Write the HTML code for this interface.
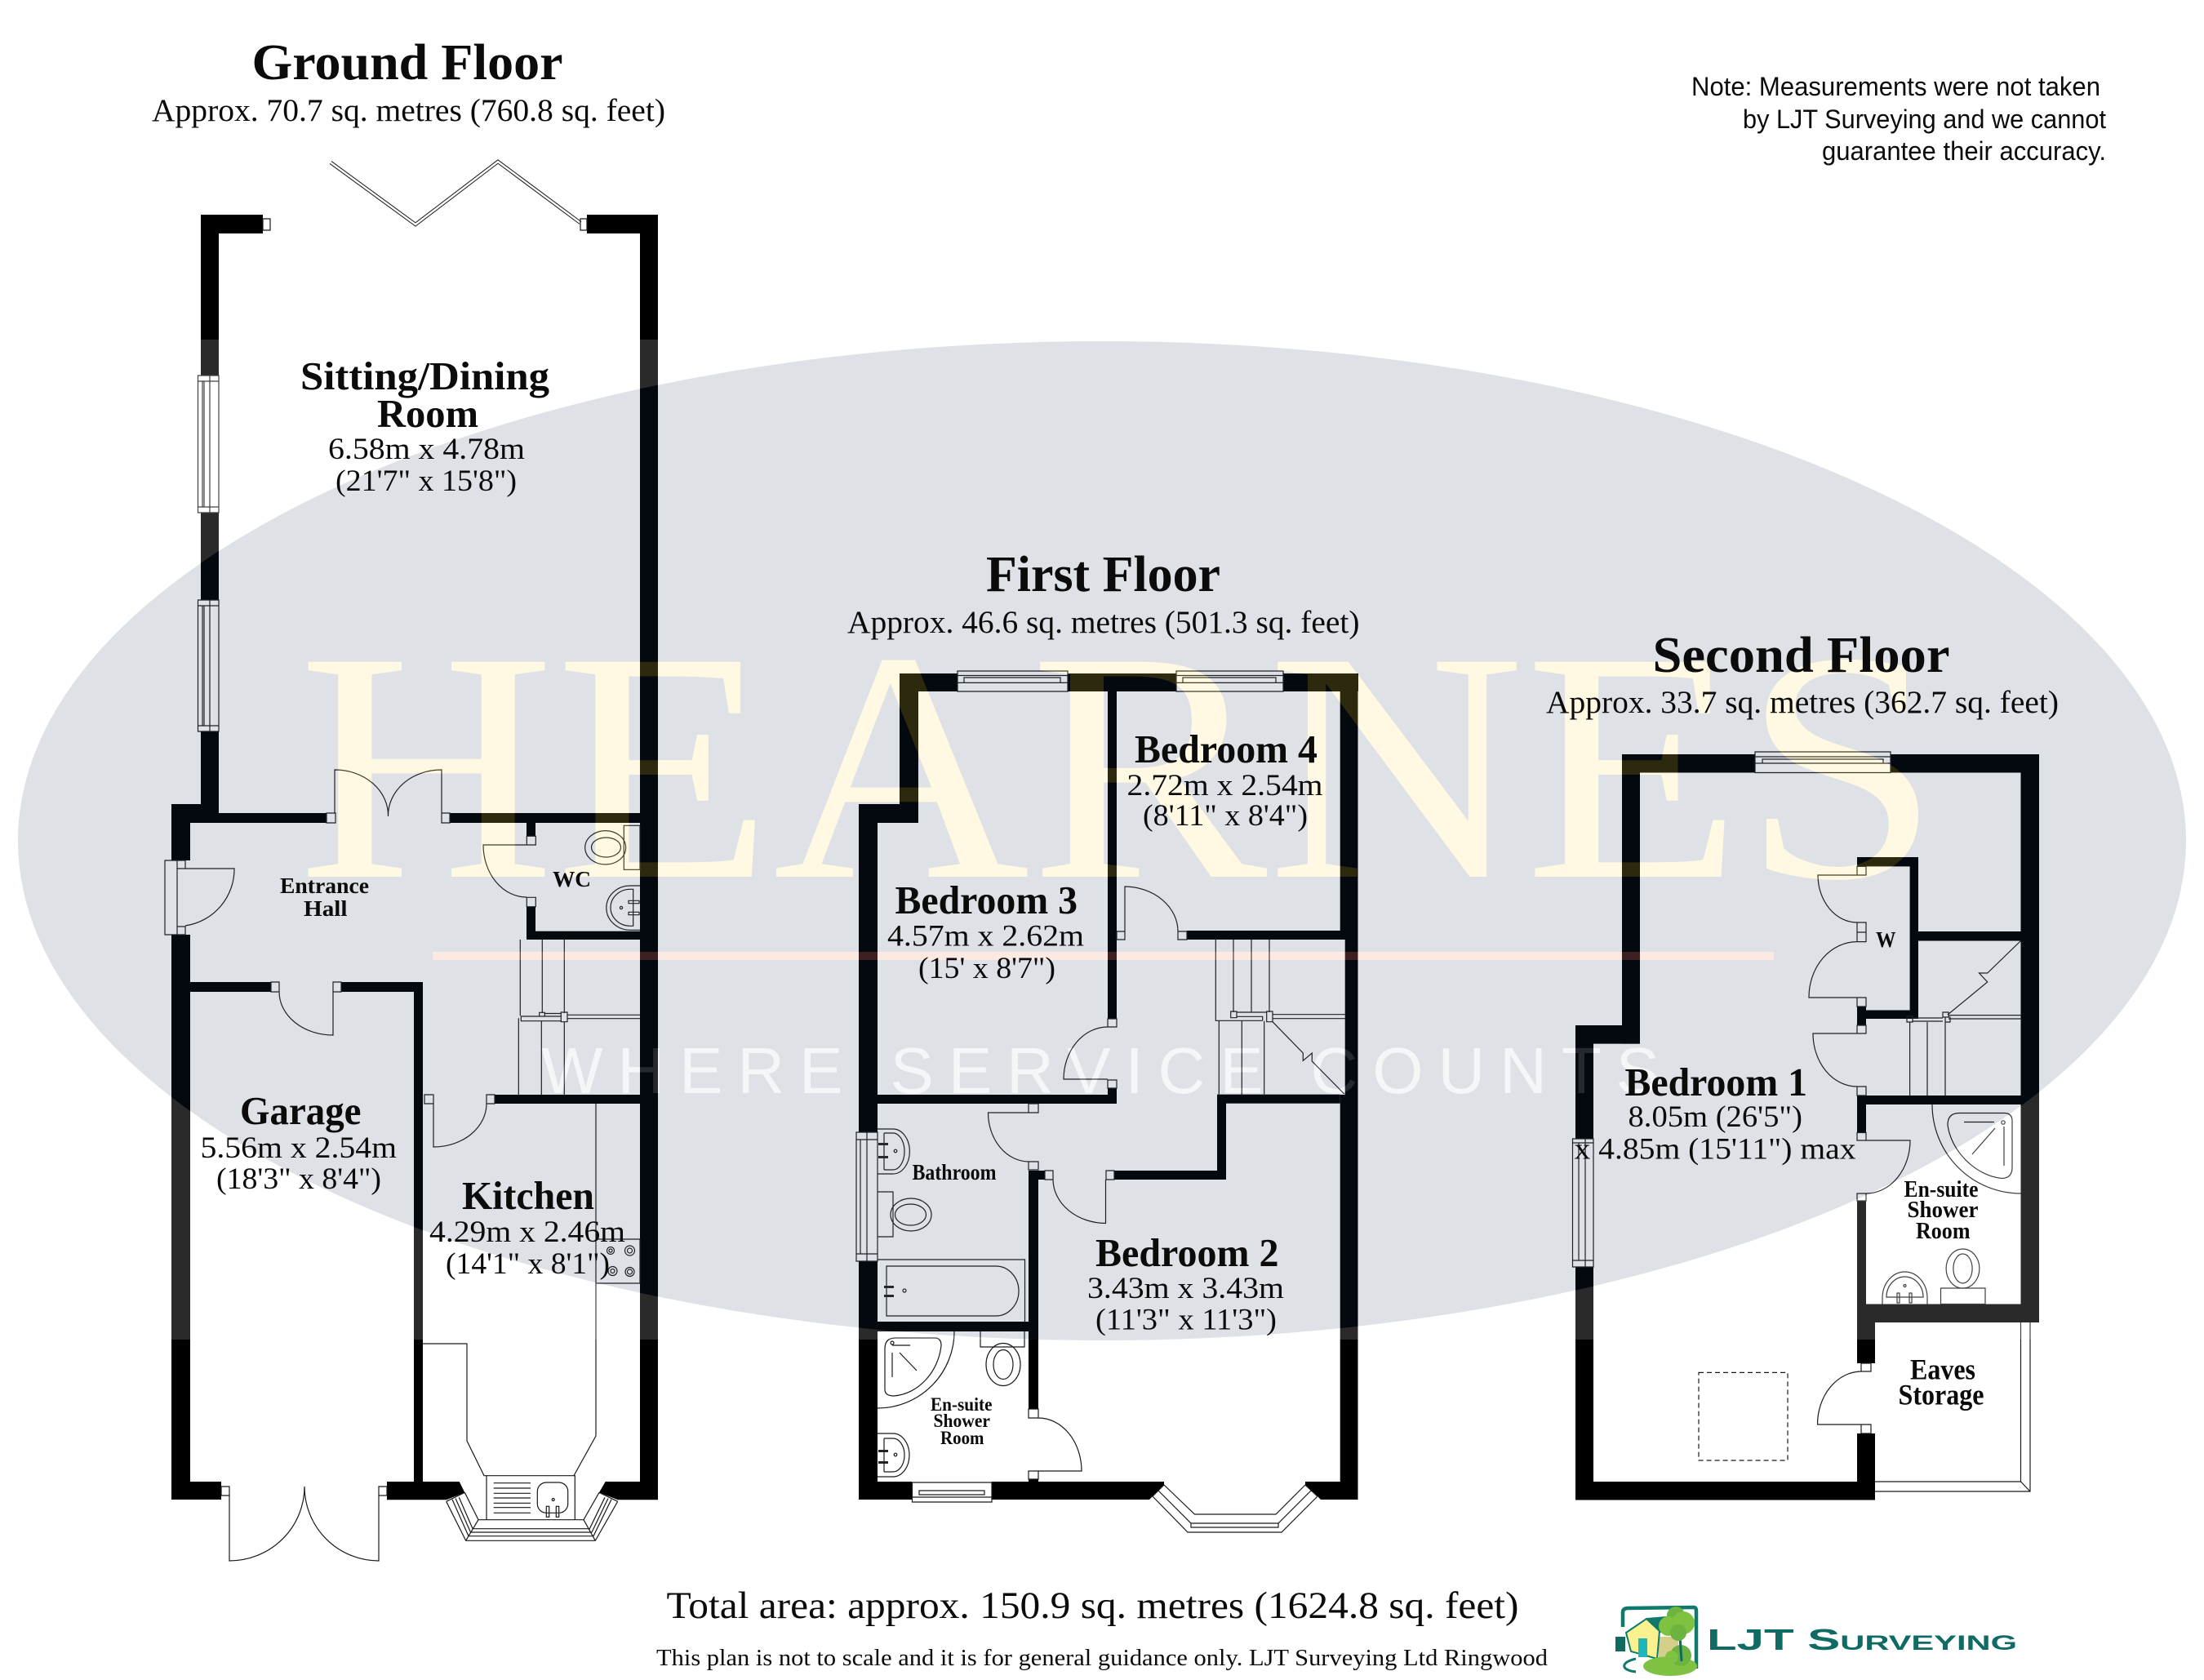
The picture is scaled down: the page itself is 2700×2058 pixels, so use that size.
<!DOCTYPE html>
<html><head><meta charset="utf-8"><title>Floor plans</title>
<style>
html,body{margin:0;padding:0;background:#fff}
svg{display:block}
text{font-family:"Liberation Serif",serif;fill:#0b0b0b}
.s{font-family:"Liberation Sans",sans-serif}
.b{font-weight:bold}
.t{font-size:62px;font-weight:bold}
.a{font-size:39px}
.r{font-size:49px;font-weight:bold}
.d{font-size:37px}
.m{font-size:27px;font-weight:bold}
.w{fill:#000}
.l{fill:none;stroke:#1a1a1a;stroke-width:1.2}
</style></head><body>
<svg xmlns="http://www.w3.org/2000/svg" width="2700" height="2058" viewBox="0 0 2700 2058">
<rect width="2700" height="2058" fill="#fff"/>
<!-- watermark base -->
<ellipse cx="1350" cy="1030" rx="1328" ry="612" fill="#dde0e4"/>
<text x="365" y="1074" font-size="402" textLength="2012" lengthAdjust="spacingAndGlyphs" style="fill:#fff8e1">HEARNES</text>
<rect x="530" y="1166" width="1643" height="10" fill="#fbe6dc"/>
<text class="s" x="663" y="1339" font-size="80" textLength="1370" lengthAdjust="spacing" style="fill:#f4f5f7">WHERE SERVICE COUNTS</text>

<!-- GROUND FLOOR walls -->
<g class="w">
<rect x="246" y="263" width="76" height="23"/>
<rect x="719" y="263" width="87" height="23"/>
<rect x="246" y="263" width="22" height="197"/>
<rect x="246" y="628" width="22" height="107"/>
<rect x="246" y="896" width="22" height="112"/>
<rect x="210" y="985" width="58" height="23"/>
<rect x="210" y="985" width="23" height="69"/>
<rect x="233" y="996" width="167" height="12"/>
<rect x="551" y="996" width="255" height="12"/>
<rect x="784" y="263" width="22" height="1574"/>
<rect x="210" y="1145" width="23" height="692"/>
<rect x="210" y="1815" width="61" height="22"/>
<polygon points="474,1815 562.700,1815 569.300,1828.300 547,1837.300 474,1837.300"/>
<polygon points="741.700,1815 806,1815 806,1837.300 756.700,1837.300 734,1828.300"/>
<rect x="507" y="1203" width="11" height="634"/>
<rect x="233" y="1203" width="99" height="12"/>
<rect x="418" y="1203" width="100" height="12"/>
<rect x="606" y="1341" width="178" height="11"/>
<rect x="645" y="1008" width="11" height="16.300"/>
<rect x="645" y="1110.700" width="11" height="40.300"/>
<rect x="645" y="1140.700" width="139" height="10.300"/>
</g>
<!-- GROUND FLOOR lines -->
<polyline points="405,199 509,275 610,198 711,273" fill="none" stroke="#222" stroke-width="4.5"/>
<polyline points="405,199 509,275 610,198 711,273" fill="none" stroke="#fff" stroke-width="2.4"/>
<path class="l" d="M322 268h9v14h-9zM711 268h8v14h-8z
M242.5 460h25.5v168h-25.5zM248 467h9v154h-9zM250 467v154M242.5 467h25.5M242.5 621h25.5M257 460v168
M242.5 735h25.5v161h-25.5zM248 742h9v147h-9zM250 742v147M242.5 742h25.5M242.5 889h25.5M257 735v161
M400 996h11v12h-11zM541 996h10v12h-10zM410 996V943A65 56 0 0 1 475.5 1000M541 996V943A65 56 0 0 0 475.5 1000
M202 1054h15v91h-15zM217 1054h10v10h-10zM217 1135h10v10h-10zM217 1064v71M227 1064H287A70 70 0 0 1 227 1134
M332 1203h10v12h-10zM408 1203h10v12h-10zM408 1215V1268A66 53 0 0 1 342 1215
M520 1341h11v11h-11zM596 1341h10v11h-10zM531 1352V1405A65 53 0 0 0 596 1352
M645.300 1024.300h11v10.700h-11zM645.300 1099.300h11v11.400h-11zM645 1035H592A53 64 0 0 0 645 1099
M271 1821h10v11h-10zM464 1821h10v11h-10zM281 1832V1912A92 91 0 0 0 373 1821M464 1832V1912A91 91 0 0 1 373 1821
M730 1352V1759L703 1807.700H593L572 1765V1646H518
M730 1518h54v54h-54z
M546.700 1839.300L570.700 1887.300H729.300L756.700 1839.300M569.300 1828.300L586 1861.700H715L734 1828.300M586 1861.700L570.700 1887.300M715 1861.700L729.300 1887.300
M579 1872.700H722M576 1877H725M574 1881.700H727
M546.700 1839.300L569.300 1828.300M756.700 1839.300L734 1828.300
M554 1836.700L574 1881.700M562.300 1834.300L579.300 1873.300M558 1835.500L576.500 1877M749 1836.700L727 1881.700M741 1834.300L722 1873.300M745 1835.500L725 1877
M596 1807.700h108.300v54H596z
M764.300 1011.300h19.700v54h-19.700z
M637.300 1151V1244.300M664.300 1151V1241M691.300 1151V1241
M660.700 1240.300h6.600v4.700h-6.600zM687.300 1240h7.700v11.700h-7.700zM667.300 1241.500H687.300M695 1243.300H784M695 1247.700H784M638.300 1245H687.300V1250.700H638.300ZM635.300 1247.300V1341M663.300 1250.700V1341M691.300 1251.700V1341
M604.700 1816.700H650M604.700 1823H650M604.700 1829.300H650M604.700 1835H650M604.700 1841.300H650M604.700 1846.700H650M604.700 1853.300H650
M784 1085H772A29 27 0 0 0 772 1139.300H784M775.700 1089.300H772A24 22.500 0 0 0 772 1134.300H775.700ZM770 1103.300h13v3.400h-13zM770 1117.300h13v3.400h-13z"/>
<rect class="l" x="658.300" y="1816" width="37.400" height="37.300" rx="11"/>
<g class="l">
<ellipse cx="741.700" cy="1038.300" rx="25" ry="20.700"/><ellipse cx="742.500" cy="1038" rx="18" ry="12"/>
<circle cx="761" cy="1112" r="1.600"/>
<circle cx="748" cy="1532" r="4.5"/><circle cx="748" cy="1532" r="2"/>
<circle cx="771.5" cy="1532" r="6"/><circle cx="771.5" cy="1532" r="3"/>
<circle cx="750.5" cy="1557" r="5.5"/><circle cx="750.5" cy="1557" r="2.5"/>
<circle cx="771.5" cy="1558" r="5.5"/><circle cx="771.5" cy="1558" r="3"/>
<circle cx="677.700" cy="1837" r="1.500"/><rect x="669.300" y="1845.300" width="3.400" height="13"/><rect x="681.300" y="1845.300" width="3.400" height="13"/>
</g>

<!-- FIRST FLOOR walls -->
<g class="w">
<rect x="1102" y="825" width="71" height="22"/>
<rect x="1308" y="825" width="133" height="22"/>
<rect x="1572" y="825" width="92" height="22"/>
<rect x="1102" y="825" width="23" height="183"/>
<rect x="1052" y="985" width="73" height="23"/>
<rect x="1052" y="985" width="23" height="402"/>
<rect x="1052" y="1545" width="23" height="292"/>
<rect x="1641.700" y="825" width="21.800" height="326"/>
<rect x="1647.700" y="1141" width="15.800" height="211"/>
<rect x="1641.700" y="1341" width="21.800" height="496"/>
<rect x="1357" y="847" width="11" height="401"/>
<rect x="1357" y="1333" width="11" height="19"/>
<rect x="1075" y="1341" width="293" height="11"/>
<rect x="1454" y="1140" width="190" height="11"/>
<rect x="1491" y="1340.700" width="150.700" height="11"/>
<rect x="1491" y="1341" width="11" height="104"/>
<rect x="1365" y="1434" width="137" height="11"/>
<rect x="1260" y="1434" width="20" height="11"/>
<rect x="1260" y="1434" width="12" height="292"/>
<rect x="1260" y="1812" width="12" height="5"/>
<rect x="1075" y="1619" width="197" height="12"/>
<rect x="1052" y="1815" width="65" height="22"/>
<polygon points="1215,1815 1426,1815 1426,1819 1412,1833 1408,1837 1215,1837"/>
<polygon points="1599,1815 1663.500,1815 1663.500,1837 1618,1837 1614,1833 1599,1819"/>
</g>
<!-- FIRST FLOOR lines -->
<path class="l" d="M1173 822h135v25h-135zM1181 830h118v6.4h-118zM1173 827.5h135M1173 836.4h135
M1441 822h131v25h-131zM1449 830h114v6.4h-114zM1441 827.5h131M1441 836.4h131
M1049 1387h26v158h-26zM1054 1396h8v140h-8zM1049 1396h26M1049 1536h26M1062 1387v158
M1117.5 1816h97.5v24h-97.5zM1126 1826h80v5h-80zM1117.5 1834h97.5
M1368 1141h10v10h-10zM1378 1141V1086A66 55 0 0 1 1443 1141M1443 1141h11v10h-11z
M1357 1248h11v10h-11zM1357 1323h11v10h-11zM1357 1322H1303A54 64 0 0 1 1357 1258
M1489.300 1151V1250.300H1546.700M1511 1151V1240M1533 1151V1240M1555 1151V1240
M1507.700 1239h7.300v7.700h-7.300zM1551.700 1239h7.300v12.700h-7.300zM1515 1240H1551.700M1515 1245.300H1546.700V1250.300M1559 1242.700H1647.700M1559 1247.700H1647.700
M1493.300 1250.700V1340.700M1521.300 1250.700V1340.700M1548.700 1250.700V1340.700
M1559 1251.700L1596.300 1290V1299.300L1607.300 1290V1300L1646.700 1340
M1260 1352h12v11h-12zM1260 1423h12v10h-12zM1260 1363H1210.5A50 60 0 0 0 1260 1423
M1280 1434h10v11h-10zM1355 1434h10v11h-10zM1354.5 1445V1498.5A65 54 0 0 1 1290 1445
M1260 1726h12v11h-12zM1260 1802h12v10h-12zM1272 1802H1325A53 65 0 0 0 1272 1737
M1426 1819L1463.5 1855H1563L1599 1819M1412 1833L1455 1877H1570L1614 1833M1412 1833L1426 1819M1614 1833L1599 1819
M1419 1826L1459 1866H1566L1606 1826M1459 1866V1871H1566V1866
M1075 1383H1094A20 27 0 0 1 1094 1438H1075M1083 1388V1433M1083 1388H1094A14 22.5 0 0 1 1094 1433H1083
M1075 1460h19v55h-19z
M1075 1543H1255.5V1619
M1086 1551H1220A28 30.500 0 0 1 1220 1612H1086Z
M1169 1631A94 94 0 0 1 1075 1725
M1084 1652Q1084 1639 1097 1639H1145Q1153 1639 1153 1648C1150 1680 1125 1708 1095 1710Q1084 1710 1084 1702Z
M1201 1631V1650H1255V1631
M1075 1756H1094A20 26.500 0 0 1 1094 1809H1075M1083 1762V1803M1083 1762H1094A14 20.500 0 0 1 1094 1803H1083
M1093 1648h22M1093 1657v30M1102 1657l21 22"/>
<g class="l">
<ellipse cx="1116" cy="1488" rx="25" ry="20"/><ellipse cx="1115.500" cy="1488" rx="19" ry="13"/>
<ellipse cx="1229" cy="1671.500" rx="21" ry="26"/><ellipse cx="1229" cy="1671.500" rx="12" ry="18"/>
<circle cx="1097" cy="1410" r="1.800"/><circle cx="1097" cy="1782" r="1.800"/><circle cx="1108" cy="1581" r="2"/>
<circle cx="1093" cy="1645" r="2"/>
</g>
<g fill="#222"><rect x="1076" y="1400" width="12" height="3"/><rect x="1076" y="1416" width="12" height="3"/>
<rect x="1083" y="1575" width="12" height="3"/><rect x="1083" y="1586" width="12" height="3"/>
<rect x="1076" y="1776" width="12" height="3"/><rect x="1076" y="1790" width="12" height="3"/></g>

<!-- SECOND FLOOR walls -->
<g class="w">
<rect x="1987" y="924" width="163" height="22.500"/>
<rect x="2316" y="924" width="182" height="22.500"/>
<rect x="1987" y="924" width="22" height="354.600"/>
<rect x="1930" y="1256" width="79" height="22.600"/>
<rect x="1930" y="1256" width="22" height="139"/>
<rect x="1930" y="1552" width="22" height="285.500"/>
<rect x="1930" y="1815" width="367" height="22.500"/>
<rect x="2475.500" y="924" width="22.500" height="696"/>
<rect x="2275" y="1597.500" width="223" height="22.500"/>
<rect x="2275" y="1597.500" width="22" height="72.500"/>
<rect x="2275" y="1756" width="22" height="81"/>
<rect x="2275" y="1342" width="11" height="45.500"/>
<rect x="2275" y="1471" width="11" height="127"/>
<rect x="2275" y="1342" width="200.500" height="11"/>
<rect x="2275" y="1050" width="75" height="11.400"/>
<rect x="2339.600" y="1050" width="10.400" height="198"/>
<rect x="2275" y="1050" width="11" height="11.400"/>
<rect x="2275" y="1233" width="11" height="23"/>
<rect x="2286" y="1237.500" width="54" height="10.500"/>
<rect x="2350" y="1141" width="125.500" height="11.500"/>
</g>
<!-- SECOND FLOOR lines -->
<path class="l" d="M2150 921h166v25.500h-166zM2159 930h148v5h-148zM2150 927h166M2150 935h166
M1926.500 1395h25.500v157h-25.500zM1934 1400h8v144h-8zM1926.500 1544h25.500M1926.500 1400h25.500M1942 1395v157
M2275 1061.400h11v10.600h-11zM2275 1072H2227A48 58 0 0 0 2275 1130
M2275 1130h11v12h-11zM2275 1142h11v11.600h-11zM2275 1153.600A59 68 0 0 0 2216 1222H2275M2275 1222h11v11h-11z
M2275 1256h11v10h-11zM2275 1266H2221A54 65 0 0 0 2275 1331M2275 1331h11v11h-11z
M2275 1387.500h11v9.500h-11zM2286 1397H2340A54 65 0 0 1 2286 1462M2275 1462h11v9h-11z
M2280 1670h12v10h-12zM2280 1745h12v11h-12zM2280 1745H2226.500A54 65 0 0 1 2280 1680
M2336 1245h7v7h-7zM2380 1240h7v6h-7zM2383 1246h6v6h-6zM2343 1247H2380M2343 1251H2380M2387 1243.600H2475.500M2387 1248H2475.500
M2339.600 1252V1342M2361 1252V1342M2383 1252V1342
M2475.500 1152.500L2434.700 1192H2424.500L2434.700 1203L2386 1243
M2367 1353A108.500 109 0 0 0 2475.500 1462
M2386 1378Q2386 1363.500 2400 1363.500H2455Q2465 1363.500 2465 1373V1430Q2465 1443.500 2452 1443.500C2420 1440 2390 1410 2386 1378Z
M2406 1374.500h37M2455 1380v48M2444 1382L2416 1414
M2306 1597.500V1590A27.500 32 0 0 1 2361 1590V1597.500M2311 1589A22.500 25 0 0 1 2356 1589V1589H2311Z
M2377.500 1578h54.500v19.500h-54.500z
M2297 1815H2475.500V1620M2297 1827H2487V1620M2475.500 1815L2487 1827"/>
<g class="l">
<ellipse cx="2404.500" cy="1554" rx="20.400" ry="24"/><ellipse cx="2404.500" cy="1554" rx="11.600" ry="18"/>
<circle cx="2454" cy="1375" r="2.200"/><circle cx="2333.500" cy="1575" r="1.500"/>
<rect x="2324" y="1584" width="3" height="12"/><rect x="2339" y="1584" width="3" height="12"/>
<rect x="2081" y="1681.400" width="109" height="107.600" stroke-dasharray="6 4"/>
</g>

<!-- Top overlays for the watermark effect -->
<g style="mix-blend-mode:screen">
<path d="M0 416H2700V1641H0ZM22 1030a1328 612 0 1 0 2656 0a1328 612 0 1 0 -2656 0Z" fill="#2a2a2a" fill-rule="evenodd"/>
<ellipse cx="1350" cy="1030" rx="1328" ry="612" fill="#04080f"/>
</g>
<g style="mix-blend-mode:screen">
<text x="365" y="1074" font-size="402" textLength="2012" lengthAdjust="spacingAndGlyphs" style="fill:#2a2200">HEARNES</text>
<rect x="530" y="1166" width="1643" height="10" fill="#3a1a14"/>
<text class="s" x="663" y="1339" font-size="80" textLength="1370" lengthAdjust="spacing" style="fill:#222">WHERE SERVICE COUNTS</text>
</g>

<!-- Text: Ground -->
<text class="t" x="308.500" y="97" textLength="381" lengthAdjust="spacingAndGlyphs">Ground Floor</text>
<text class="a" x="186" y="148" textLength="629" lengthAdjust="spacingAndGlyphs">Approx. 70.7 sq. metres (760.8 sq. feet)</text>
<g style="fill:#222">
<text class="r" x="368" y="477" textLength="305" lengthAdjust="spacingAndGlyphs">Sitting/Dining</text>
<text class="r" x="462" y="523" textLength="124" lengthAdjust="spacingAndGlyphs">Room</text>
<text class="d" x="402" y="562" textLength="241" lengthAdjust="spacingAndGlyphs">6.58m x 4.78m</text>
<text class="d" x="411" y="601" textLength="222" lengthAdjust="spacingAndGlyphs">(21'7" x 15'8")</text>
</g>
<text class="m" x="343" y="1094" textLength="109" lengthAdjust="spacingAndGlyphs" font-weight="normal">Entrance</text>
<text class="m" x="372" y="1122" textLength="53.500" lengthAdjust="spacingAndGlyphs">Hall</text>
<text class="m" x="677" y="1086" textLength="47" lengthAdjust="spacingAndGlyphs">WC</text>
<text class="r" x="294" y="1377" textLength="148.500" lengthAdjust="spacingAndGlyphs">Garage</text>
<text class="d" x="245.500" y="1418" textLength="240.500" lengthAdjust="spacingAndGlyphs">5.56m x 2.54m</text>
<text class="d" x="265" y="1456" textLength="202" lengthAdjust="spacingAndGlyphs">(18'3" x 8'4")</text>
<text class="r" x="566" y="1481" textLength="162" lengthAdjust="spacingAndGlyphs">Kitchen</text>
<text class="d" x="526" y="1521" textLength="240" lengthAdjust="spacingAndGlyphs">4.29m x 2.46m</text>
<text class="d" x="546" y="1560" textLength="201" lengthAdjust="spacingAndGlyphs">(14'1" x 8'1")</text>

<!-- Text: First -->
<text class="t" x="1208" y="724" textLength="287" lengthAdjust="spacingAndGlyphs">First Floor</text>
<text class="a" x="1038" y="775" textLength="627.500" lengthAdjust="spacingAndGlyphs">Approx. 46.6 sq. metres (501.3 sq. feet)</text>
<text class="r" x="1390" y="934" textLength="224" lengthAdjust="spacingAndGlyphs">Bedroom 4</text>
<text class="d" x="1380.500" y="974" textLength="240" lengthAdjust="spacingAndGlyphs">2.72m x 2.54m</text>
<text class="d" x="1400" y="1011" textLength="202" lengthAdjust="spacingAndGlyphs">(8'11" x 8'4")</text>
<text class="r" x="1096.500" y="1119" textLength="223.500" lengthAdjust="spacingAndGlyphs">Bedroom 3</text>
<text class="d" x="1087" y="1158.500" textLength="241" lengthAdjust="spacingAndGlyphs">4.57m x 2.62m</text>
<text class="d" x="1125" y="1198" textLength="168" lengthAdjust="spacingAndGlyphs">(15' x 8'7")</text>
<text class="m" x="1117.500" y="1445" textLength="103" lengthAdjust="spacingAndGlyphs">Bathroom</text>
<text class="r" x="1342" y="1551" textLength="224.500" lengthAdjust="spacingAndGlyphs">Bedroom 2</text>
<text class="d" x="1332" y="1590" textLength="241" lengthAdjust="spacingAndGlyphs">3.43m x 3.43m</text>
<text class="d" x="1342" y="1628.500" textLength="222" lengthAdjust="spacingAndGlyphs">(11'3" x 11'3")</text>
<g font-size="23" font-weight="bold">
<text x="1140" y="1728" textLength="75.500" lengthAdjust="spacingAndGlyphs">En-suite</text>
<text x="1143.500" y="1748" textLength="69.500" lengthAdjust="spacingAndGlyphs">Shower</text>
<text x="1152" y="1769" textLength="53.500" lengthAdjust="spacingAndGlyphs">Room</text>
</g>

<!-- Text: Second -->
<text class="t" x="2024.500" y="823" textLength="364" lengthAdjust="spacingAndGlyphs">Second Floor</text>
<text class="a" x="1894" y="873" textLength="628" lengthAdjust="spacingAndGlyphs">Approx. 33.7 sq. metres (362.7 sq. feet)</text>
<text class="r" x="1990.500" y="1342" textLength="223.500" lengthAdjust="spacingAndGlyphs">Bedroom 1</text>
<text class="d" x="1994.500" y="1380" textLength="213.500" lengthAdjust="spacingAndGlyphs">8.05m (26'5")</text>
<text class="d" x="1928.500" y="1419.500" textLength="345" lengthAdjust="spacingAndGlyphs">x 4.85m (15'11") max</text>
<text class="m" x="2298" y="1160" textLength="24.500" lengthAdjust="spacingAndGlyphs">W</text>
<g font-size="28" font-weight="bold" style="fill:#222">
<text x="2332.500" y="1466" textLength="91" lengthAdjust="spacingAndGlyphs">En-suite</text>
<text x="2336.500" y="1491" textLength="87" lengthAdjust="spacingAndGlyphs">Shower</text>
<text x="2347" y="1517" textLength="66.500" lengthAdjust="spacingAndGlyphs">Room</text>
</g>
<g font-size="36" font-weight="bold">
<text x="2340" y="1689.500" textLength="80" lengthAdjust="spacingAndGlyphs">Eaves</text>
<text x="2325.500" y="1720.500" textLength="105" lengthAdjust="spacingAndGlyphs">Storage</text>
</g>

<!-- Note -->
<g font-size="32">
<text class="s" x="2072" y="117" textLength="501" lengthAdjust="spacingAndGlyphs">Note: Measurements were not taken</text>
<text class="s" x="2135" y="157" textLength="445" lengthAdjust="spacingAndGlyphs">by LJT Surveying and we cannot</text>
<text class="s" x="2232" y="196" textLength="348" lengthAdjust="spacingAndGlyphs">guarantee their accuracy.</text>
</g>

<!-- Footer -->
<text x="816.500" y="1982" font-size="47" textLength="1044" lengthAdjust="spacingAndGlyphs">Total area: approx. 150.9 sq. metres (1624.8 sq. feet)</text>
<text x="804" y="2040" font-size="29" textLength="1092" lengthAdjust="spacingAndGlyphs">This plan is not to scale and it is for general guidance only. LJT Surveying Ltd Ringwood</text>

<!-- Logo -->
<g>
<path d="M1988 1993V1975Q1988 1970 1995 1970L2075 1969Q2078 1969 2078 1974V2044" fill="none" stroke="#0f7a6b" stroke-width="4.500"/>
<polygon points="2017,1982 2042,1980 2060,2000 2032,2000" fill="#0f7a6b"/>
<rect x="2032" y="2005" width="24" height="27" fill="#d6cf8c"/>
<polygon points="1992,2000 2017,1983 2033,1998 2030,2032 1998,2023" fill="#fbf28f" stroke="#0f7a6b" stroke-width="2"/>
<rect x="2007" y="2007" width="11" height="23" fill="#1eb5bd"/>
<rect x="1979" y="2005" width="12" height="18" fill="#0f6b5f"/>
<path d="M2004 2032C1985 2036 1985 2046 2004 2048" fill="none" stroke="#0f7a6b" stroke-width="3"/>
<ellipse cx="2046" cy="2041" rx="33" ry="12" fill="#7fc241"/>
<circle cx="2059" cy="2028" r="13" fill="#6db33f"/>
<circle cx="2048" cy="2030" r="8" fill="#7fc241"/>
<path d="M2060 2035L2058 2005" stroke="#0f6b5f" stroke-width="3"/>
<circle cx="2053" cy="1979" r="11" fill="#6db33f"/>
<circle cx="2044" cy="1992" r="12" fill="#7fc241"/>
<circle cx="2062" cy="1988" r="14" fill="#7fc241"/>
<circle cx="2056" cy="2000" r="10" fill="#6db33f"/>
<text class="s b" x="2091" y="2021" font-size="36" textLength="380" lengthAdjust="spacingAndGlyphs" style="fill:#0f6b63;font-variant:small-caps">LJT Surveying</text>
</g>
</svg>
</body></html>
